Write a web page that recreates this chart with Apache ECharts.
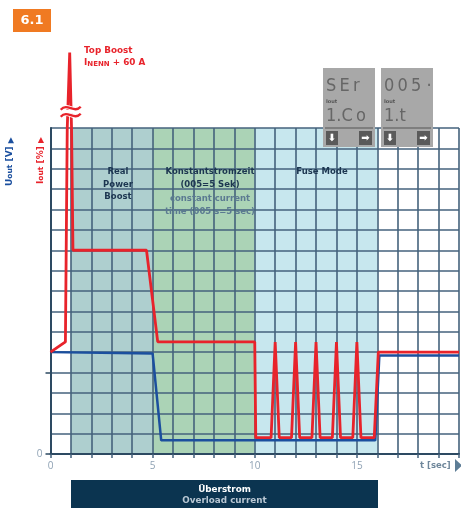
<!DOCTYPE html>
<html><head><meta charset="utf-8">
<script src="https://cdn.jsdelivr.net/npm/echarts@6/dist/echarts.min.js"></script>
<style>html,body{margin:0;padding:0;background:#fff}#c{width:461px;height:508px}</style>
</head><body><div id="c"></div>
<script>
// ---- data ----
const xTickLabels = [0, 5, 10, 15];
const yTickMarks = [0, 4];
const yTickLabels = [0];
const zoneBounds = [[1, 5], [5, 10], [10, 16]];
const outputCurrent = [[0,5.0],[0.73,5.5],[0.82,16],[0.94,19.7],[1.03,16],[1.1,10],[4.7,10],[5.25,5.5],[10,5.5],[10.05,0.8],[10.8,0.8],[11,5.5],[11.2,0.8],[11.8,0.8],[12,5.5],[12.2,0.8],[12.8,0.8],[13,5.5],[13.2,0.8],[13.8,0.8],[14,5.5],[14.2,0.8],[14.8,0.8],[15,5.5],[15.2,0.8],[15.85,0.8],[16.05,5.0],[20,5.0]];
const outputVoltage = [[0,5.0],[5.0,4.93],[5.42,0.67],[15.9,0.67],[16.1,4.84],[20,4.84]];
const axisBreak = [[0.99, 16.8]];

// ---- styles ----
const RED = '#e8232b', BLUE = '#1b4f9e', NAVY = '#1c3650', GRID = '#44627c';
const zoneColors = ['#aecfcf', '#abd3b6', '#c7e7ee'];
const F = '"DejaVu Sans", sans-serif';
const NF = '"Open Sans", "DejaVu Sans", sans-serif';
const LCDF = '"Liberation Sans Narrow", "DejaVu Sans Condensed", sans-serif';

const chart = echarts.init(document.getElementById('c'), null, {renderer: 'canvas'});

function lcd(x0, top1, bottom1) {
  return [
    {type:'rect', shape:{x:x0, y:68, width:52, height:79}, style:{fill:'#a8a8a8'}, z:10},
    {type:'text', x:x0+3, y:86, style:{text:top1, fill:'#666', font:'18px ' + LCDF, verticalAlign:'middle'}, z:11},
    {type:'text', x:x0+3, y:102, style:{text:'Iout', fill:'#555', font:'bold 5px ' + F, verticalAlign:'middle'}, z:11},
    {type:'text', x:x0+3, y:116, style:{text:bottom1, fill:'#666', font:'18px ' + LCDF, verticalAlign:'middle'}, z:11},
    {type:'line', shape:{x1:x0+2, y1:128, x2:x0+50, y2:128}, style:{stroke:'#555', lineWidth:1}, z:11},
    {type:'rect', shape:{x:x0+3, y:131, width:12, height:14}, style:{fill:'#5a5a5a'}, z:11},
    {type:'text', x:x0+9, y:138, style:{text:'⬇', fill:'#fff', font:'bold 10px "DejaVu Sans"', align:'center', verticalAlign:'middle'}, z:12},
    {type:'rect', shape:{x:x0+36, y:131, width:13, height:14}, style:{fill:'#5a5a5a'}, z:11},
    {type:'text', x:x0+42.5, y:138, style:{text:'➡', fill:'#fff', font:'bold 10px "DejaVu Sans"', align:'center', verticalAlign:'middle'}, z:12}
  ];
}

const txt = (x, y, text, fill, size, extra) => Object.assign({type:'text', x, y, z:20,
  style:{text, fill, font:'bold ' + size + 'px ' + F, align:'center', verticalAlign:'middle'}}, extra || {});

const graphics = [
  {type:'rect', shape:{x:13, y:9, width:38, height:23}, style:{fill:'#f07a22'}},
  {type:'text', x:32, y:20.5, style:{text:'6.1', fill:'#fff', font:'bold 13px ' + F, align:'center', verticalAlign:'middle'}},
  {type:'text', x:84, y:50.5, style:{text:'Top Boost', fill:RED, font:'bold 8.8px ' + F, verticalAlign:'middle'}},
  {type:'text', x:84, y:63, style:{text:'{a|I}{b|NENN}{a| + 60 A}', verticalAlign:'middle',
    rich:{a:{fill:RED, fontSize:8.8, fontWeight:'bold', fontFamily:F, verticalAlign:'bottom'},
          b:{fill:RED, fontSize:7, fontWeight:'bold', fontFamily:F, verticalAlign:'bottom'}}}},
  {type:'text', x:10, y:186, rotation:Math.PI/2, style:{text:'{u|U}{s|out}{u| [V] }{t|▶}', verticalAlign:'middle', align:'left',
    rich:{u:{fill:BLUE, fontSize:9, fontWeight:'bold', fontFamily:F, verticalAlign:'bottom'},
          s:{fill:BLUE, fontSize:7.5, fontWeight:'bold', fontFamily:F, verticalAlign:'bottom'},
          t:{fill:BLUE, fontSize:8, fontFamily:'"DejaVu Sans"', verticalAlign:'bottom'}}}},
  {type:'text', x:40.5, y:184, rotation:Math.PI/2, style:{text:'{u|I}{s|out}{u| [%] }{t|▶}', verticalAlign:'middle', align:'left',
    rich:{u:{fill:RED, fontSize:9, fontWeight:'bold', fontFamily:F, verticalAlign:'bottom'},
          s:{fill:RED, fontSize:7.5, fontWeight:'bold', fontFamily:F, verticalAlign:'bottom'},
          t:{fill:RED, fontSize:8, fontFamily:'"DejaVu Sans"', verticalAlign:'bottom'}}}},
  txt(118, 172, 'Real', NAVY, 8.5),
  txt(118, 184.5, 'Power', NAVY, 8.5),
  txt(118, 197, 'Boost', NAVY, 8.5),
  txt(210, 172, 'Konstantstromzeit', NAVY, 8.5),
  txt(210, 184.5, '(005=5 Sek)', NAVY, 8.5),
  txt(210, 199, 'constant current', '#5b7a91', 8.5),
  txt(210, 211.5, 'time (005 s=5 sec)', '#5b7a91', 8.5),
  txt(322, 172, 'Fuse Mode', NAVY, 8.5),
  ...lcd(323, 'S\u2009E\u2009r', '1.C\u2009o'),
  ...lcd(381, '0\u20090\u20095 ·', '1.t'),
  {type:'text', x:420, y:465.5, style:{text:'t [sec]', fill:'#6f879b', font:'bold 8.5px ' + F, verticalAlign:'middle'}},
  {type:'polygon', shape:{points:[[455,459],[455,472],[462,465.5]]}, style:{fill:'#5d7d96'}},
  {type:'rect', shape:{x:71, y:480, width:307, height:28}, style:{fill:'#0b3450'}},
  txt(224.5, 490, 'Überstrom', '#ffffff', 8.8),
  txt(224.5, 500.5, 'Overload current', '#b9c7d3', 8.8)
];

const option = {
  animation: false,
  backgroundColor: '#fff',
  grid: {left: 50.5, right: 2, top: 128, bottom: 54, outerBoundsMode: 'none', containLabel: false},
  xAxis: {
    type: 'value', min: 0, max: 20, interval: 1, z: 2,
    axisLine: {show: true, onZero: false, lineStyle: {color: '#2d4a62', width: 2}},
    axisTick: {show: true, length: 4, lineStyle: {color: GRID, width: 1.5}},
    splitLine: {show: true, lineStyle: {color: GRID, width: 1.6}},
    axisLabel: {margin: 7, color: '#8fa2b4', fontSize: 10, fontFamily: NF,
      formatter: v => xTickLabels.includes(v) ? String(v) : ''}
  },
  yAxis: [{
    type: 'value', min: 0, max: 16, interval: 1, z: 2,
    axisLine: {show: true, lineStyle: {color: '#2d4a62', width: 2}},
    axisTick: {show: false},
    axisLabel: {show: false},
    splitLine: {show: true, lineStyle: {color: GRID, width: 1.6}}
  }, {
    type: 'value', min: 0, max: 16, interval: 4, position: 'left', z: 2,
    axisLine: {show: false},
    splitLine: {show: false},
    axisTick: {show: true, length: 5, customValues: yTickMarks, lineStyle: {color: '#2d4a62', width: 1.5}},
    axisLabel: {show: true, margin: 8, color: '#8fa2b4', fontSize: 10, fontFamily: NF, customValues: yTickLabels}
  }],
  graphic: graphics,
  series: [
    {
      type: 'custom', z: 1, silent: true,
      data: zoneBounds.map((b, i) => [b[0], b[1], i]),
      renderItem: (params, api) => {
        const p0 = api.coord([api.value(0), 16]);
        const p1 = api.coord([api.value(1), 0]);
        return {type: 'rect', shape: {x: p0[0], y: p0[1], width: p1[0] - p0[0], height: p1[1] - p0[1]},
          style: {fill: zoneColors[api.value(2)]}};
      }
    },
    {
      type: 'line', z: 4, data: outputVoltage, showSymbol: false, clip: false,
      lineStyle: {color: BLUE, width: 2.5}, silent: true
    },
    {
      type: 'line', z: 5, data: outputCurrent, showSymbol: false, clip: false,
      lineStyle: {color: RED, width: 2.8}, silent: true
    },
    {
      type: 'custom', z: 6, clip: false, silent: true, data: axisBreak,
      renderItem: (params, api) => {
        const c = api.coord([api.value(0), api.value(1)]);
        const wave = (dy, stroke, lw) => ({type: 'bezierCurve',
          shape: {x1: c[0]-10, y1: c[1]+dy+1.5, cpx1: c[0]-3, cpy1: c[1]+dy-6, cpx2: c[0]+3, cpy2: c[1]+dy+6, x2: c[0]+10, y2: c[1]+dy-1.5},
          style: {stroke, lineWidth: lw, fill: null}});
        return {type: 'group', children: [
          {type: 'rect', shape: {x: c[0]-11, y: c[1]-2, width: 22, height: 4}, style: {fill: '#fff'}},
          wave(-3.5, '#fff', 4), wave(3.5, '#fff', 4),
          wave(-3.5, RED, 2.4), wave(3.5, RED, 2.4)
        ]};
      }
    }
  ]
};
chart.setOption(option);
</script>
</body></html>
